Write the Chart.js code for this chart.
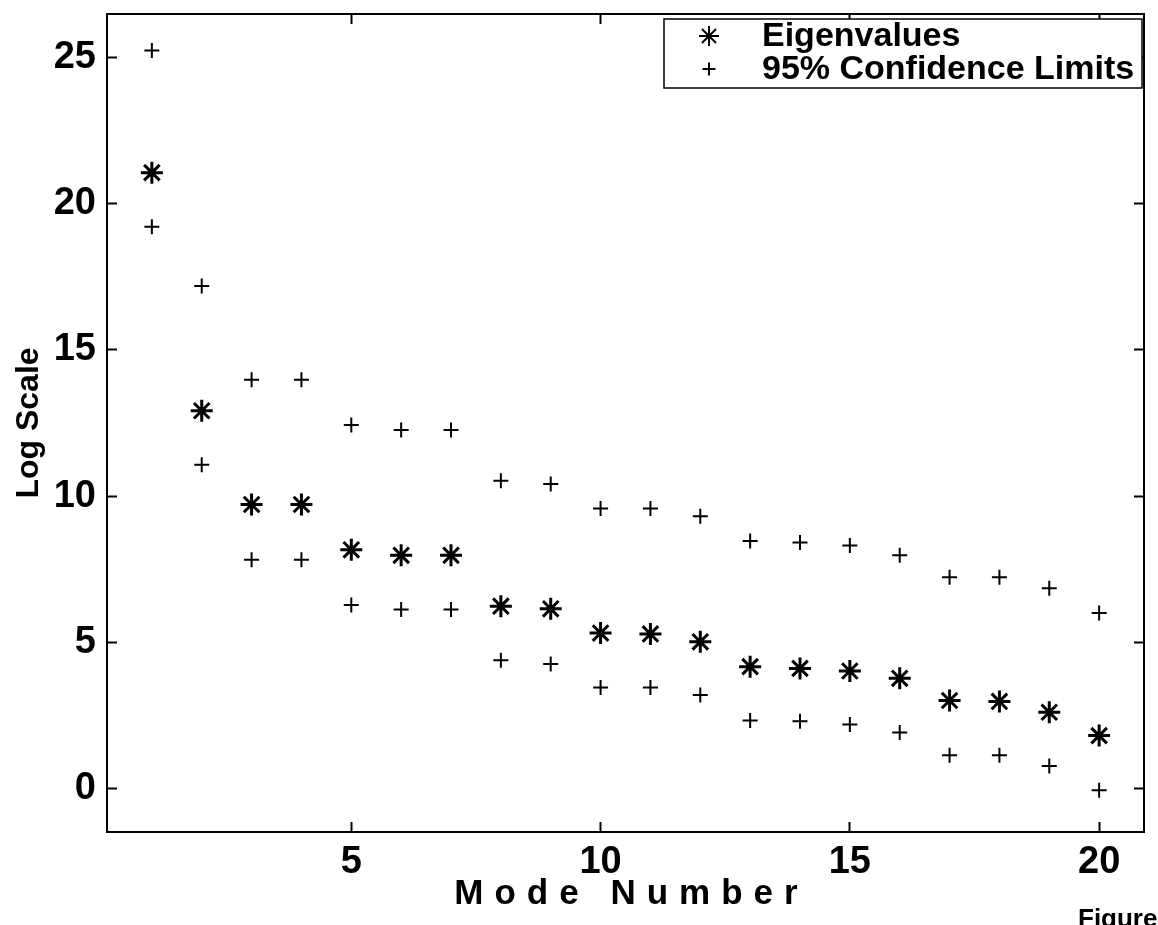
<!DOCTYPE html>
<html>
<head>
<meta charset="utf-8">
<script src="https://cdn.jsdelivr.net/npm/chart.js@4.4.1/dist/chart.umd.min.js"></script>
<style>
  html, body { margin: 0; padding: 0; background: #ffffff; }
  #wrap { width: 1158px; height: 925px; position: relative; }
</style>
</head>
<body>
<div id="wrap"><canvas id="c" width="1158" height="925"></canvas></div>
<script>
// ---- data ----
const modes = [1, 2, 3, 4, 5, 6, 7, 8, 9, 10, 11, 12, 13, 14, 15, 16, 17, 18, 19, 20];
const eigenvalues = [21.07, 12.92, 9.71, 9.71, 8.16, 7.97, 7.97, 6.23, 6.14, 5.31, 5.28, 5.01, 4.16, 4.10, 4.01, 3.76, 3.00, 2.97, 2.60, 1.80];
const upperLimit = [25.25, 17.19, 13.98, 13.98, 12.43, 12.26, 12.26, 10.52, 10.41, 9.57, 9.57, 9.31, 8.46, 8.41, 8.31, 7.97, 7.22, 7.22, 6.84, 6.00];
const lowerLimit = [19.22, 11.07, 7.82, 7.82, 6.27, 6.12, 6.12, 4.38, 4.25, 3.45, 3.45, 3.19, 2.32, 2.29, 2.18, 1.91, 1.13, 1.13, 0.76, -0.07];
const xTicks = [5, 10, 15, 20];
const yTicks = [0, 5, 10, 15, 20, 25];
const seriesNames = ['Eigenvalues', '95% Confidence Limits'];
const xTitle = 'Mode Number';
const yTitle = 'Log Scale';
const cornerText = 'Figure';

const FONT = '"Liberation Sans", Arial, Helvetica, sans-serif';
const toPts = (ys) => modes.map((m, i) => ({ x: m, y: ys[i] }));

const tickMarks = {
  drawOnChartArea: false, drawTicks: true, tickLength: -10,
  color: '#000', tickColor: '#000', tickWidth: 2
};
const noPad = (s) => { s.paddingTop = 0; s.paddingBottom = 0; s.paddingLeft = 0; s.paddingRight = 0; };

const customDecor = {
  id: 'customDecor',
  afterDraw(chart) {
    const ctx = chart.ctx;
    const ca = chart.chartArea;
    ctx.save();
    // legend box
    const bx = 664, by = 19, bw = 478, bh = 69;
    ctx.fillStyle = '#fff';
    ctx.fillRect(bx, by, bw, bh);
    ctx.strokeStyle = '#000';
    ctx.lineWidth = 1.5;
    ctx.strokeRect(bx, by, bw, bh);
    const rows = [
      { ds: chart.data.datasets[0], y: by + 17, label: seriesNames[0] },
      { ds: chart.data.datasets[1], y: by + 50, label: seriesNames[1] }
    ];
    rows.forEach(r => {
      ctx.strokeStyle = '#000';
      ctx.fillStyle = '#000';
      ctx.lineWidth = 2;
      Chart.helpers.drawPoint(ctx, { pointStyle: r.ds.pointStyle, radius: r.ds.pointRadius - 1, rotation: 0, borderWidth: 2 }, 709, r.y);
      ctx.font = 'bold 34px ' + FONT;
      ctx.textAlign = 'left';
      ctx.textBaseline = 'middle';
      ctx.fillStyle = '#000';
      ctx.fillText(r.label, 762, r.y + 1);
    });
    // x axis title with wide letter spacing
    ctx.font = 'bold 35px ' + FONT;
    ctx.letterSpacing = '11px';
    ctx.textAlign = 'center';
    ctx.textBaseline = 'middle';
    ctx.fillStyle = '#000';
    ctx.fillText(xTitle, (ca.left + ca.right) / 2 + 6, 894);
    ctx.letterSpacing = '0px';
    // corner text (cut off at the bottom)
    ctx.font = 'bold 26px ' + FONT;
    ctx.textAlign = 'left';
    ctx.textBaseline = 'top';
    ctx.fillText(cornerText, 1078, 907);
    ctx.restore();
  }
};

new Chart(document.getElementById('c'), {
  type: 'scatter',
  data: {
    datasets: [
      { label: seriesNames[0], data: toPts(eigenvalues), pointStyle: 'star', pointRadius: 11,
        pointBorderWidth: 3, borderColor: '#000', backgroundColor: '#000', pointBorderColor: '#000', showLine: false },
      { label: seriesNames[1], data: toPts(upperLimit), pointStyle: 'cross', pointRadius: 7.5,
        pointBorderWidth: 2, borderColor: '#000', backgroundColor: '#000', pointBorderColor: '#000', showLine: false },
      { label: seriesNames[1] + ' (lower)', data: toPts(lowerLimit), pointStyle: 'cross', pointRadius: 7.5,
        pointBorderWidth: 2, borderColor: '#000', backgroundColor: '#000', pointBorderColor: '#000', showLine: false }
    ]
  },
  options: {
    responsive: false,
    animation: false,
    layout: { padding: { top: 8, right: 6, left: 0, bottom: 0 } },
    plugins: { legend: { display: false }, tooltip: { enabled: false } },
    scales: {
      x: {
        type: 'linear', position: 'bottom', min: 0.1, max: 20.9,
        afterBuildTicks: (s) => { s.ticks = xTicks.map(v => ({ value: v })); },
        ticks: { color: '#000', font: { family: FONT, size: 38, weight: 'bold' }, padding: 18, maxRotation: 0, autoSkip: false },
        grid: tickMarks,
        border: { display: true, color: '#000', width: 2 },
        afterFit: (s) => { s.height = 93; noPad(s); }
      },
      x2: {
        type: 'linear', position: 'top', min: 0.1, max: 20.9,
        afterBuildTicks: (s) => { s.ticks = xTicks.map(v => ({ value: v })); },
        ticks: { display: false },
        grid: tickMarks,
        border: { display: true, color: '#000', width: 2 },
        afterFit: (s) => { s.height = 0; noPad(s); }
      },
      y: {
        type: 'linear', position: 'left', min: -1.5, max: 26.5,
        afterBuildTicks: (s) => { s.ticks = yTicks.map(v => ({ value: v })); },
        ticks: { color: '#000', font: { family: FONT, size: 38, weight: 'bold' }, padding: 21, autoSkip: false },
        grid: tickMarks,
        border: { display: true, color: '#000', width: 2 },
        title: { display: true, text: yTitle, color: '#000', font: { family: FONT, size: 32, weight: 'bold' }, padding: { top: 10, bottom: 0 } },
        afterFit: (s) => { s.width = 107; noPad(s); }
      },
      y2: {
        type: 'linear', position: 'right', min: -1.5, max: 26.5,
        afterBuildTicks: (s) => { s.ticks = yTicks.map(v => ({ value: v })); },
        ticks: { display: false },
        grid: tickMarks,
        border: { display: true, color: '#000', width: 2 },
        afterFit: (s) => { s.width = 0; noPad(s); }
      }
    }
  },
  plugins: [customDecor]
});
</script>
</body>
</html>
